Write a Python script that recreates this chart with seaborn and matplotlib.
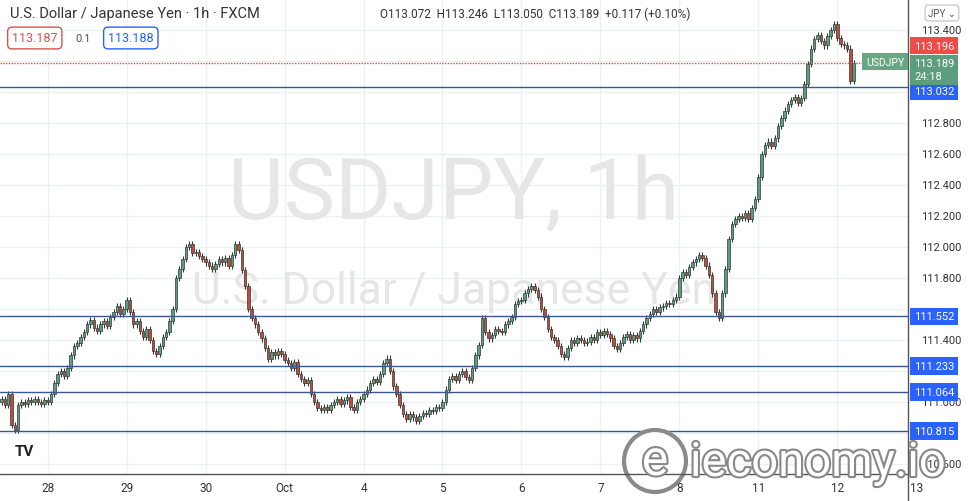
import numpy as np
import pandas as pd
import matplotlib
matplotlib.use("Agg")
import matplotlib.pyplot as plt
import matplotlib.patheffects as pe
import seaborn as sns

# hourly closes, one row per trading day
closes = [
    # Sep 27
    111.02, 110.98, 111.05, 110.85, 110.82, 110.98, 111.00, 110.99, 111.01, 111.00, 111.02, 111.00, 110.99, 111.01,
    # Sep 28
    111.00, 111.05, 111.12, 111.18, 111.20, 111.17, 111.22, 111.30, 111.36, 111.38, 111.42, 111.45,
    111.50, 111.53, 111.48, 111.46, 111.50, 111.52, 111.49, 111.55, 111.58, 111.62, 111.57, 111.60,
    # Sep 29
    111.66, 111.58, 111.50, 111.52, 111.46, 111.42, 111.47, 111.40, 111.33, 111.31, 111.36, 111.42,
    111.45, 111.52, 111.60, 111.80, 111.86, 111.92, 112.00, 112.02, 111.96, 111.97, 111.94, 111.92,
    # Sep 30
    111.90, 111.88, 111.86, 111.89, 111.92, 111.90, 111.93, 111.88, 111.95, 112.02, 111.98, 111.85,
    111.75, 111.60, 111.54, 111.50, 111.45, 111.41, 111.35, 111.28, 111.32, 111.30, 111.33, 111.31,
    # Oct 1
    111.27, 111.25, 111.22, 111.26, 111.18, 111.15, 111.12, 111.14, 111.05, 111.00, 110.96, 110.95,
    110.97, 110.95, 110.98, 111.00, 111.02, 110.99, 111.01, 111.03, 110.97, 110.95, 111.00, 111.02,
    # Oct 4
    111.05, 111.08, 111.12, 111.15, 111.13, 111.18, 111.25, 111.28, 111.20, 111.10, 111.05, 110.98,
    110.92, 110.89, 110.92, 110.90, 110.88, 110.91, 110.93, 110.92, 110.95, 110.94, 110.97, 110.96,
    # Oct 5
    111.00, 111.08, 111.15, 111.17, 111.14, 111.18, 111.20, 111.16, 111.14, 111.22, 111.30, 111.37,
    111.54, 111.45, 111.41, 111.43, 111.47, 111.46, 111.45, 111.50, 111.52, 111.55, 111.63, 111.65,
    # Oct 6
    111.66, 111.70, 111.73, 111.75, 111.72, 111.68, 111.60, 111.55, 111.47, 111.42, 111.40, 111.36,
    111.31, 111.29, 111.35, 111.40, 111.38, 111.41, 111.40, 111.38, 111.39, 111.42, 111.40, 111.45,
    # Oct 7
    111.43, 111.46, 111.44, 111.41, 111.36, 111.34, 111.38, 111.42, 111.44, 111.40, 111.43, 111.41,
    111.46, 111.50, 111.54, 111.57, 111.60, 111.58, 111.61, 111.62, 111.64, 111.63, 111.66, 111.68,
    # Oct 8
    111.80, 111.84, 111.82, 111.87, 111.90, 111.92, 111.95, 111.93, 111.88, 111.82, 111.70, 111.58,
    111.54, 111.70, 111.86, 112.05, 112.15, 112.18, 112.20, 112.19, 112.22, 112.18, 112.25, 112.31,
    # Oct 11
    112.45, 112.60, 112.66, 112.68, 112.65, 112.70, 112.78, 112.83, 112.88, 112.92, 112.95, 112.97,
    112.93, 112.96, 113.05, 113.18, 113.28, 113.34, 113.37, 113.33, 113.30, 113.36, 113.40, 113.44,
    # Oct 12
    113.35, 113.31, 113.30, 113.28, 113.072, 113.189,
]
first_open = 111.00
day_labels = ["28", "29", "30", "Oct", "4", "5", "6", "7", "8", "11", "12", "13"]
day_starts = [14, 38, 62, 86, 110, 134, 158, 182, 206, 230, 254, 278]
levels = [113.032, 111.552, 111.233, 111.064, 110.815]
price_ticks = [113.4, 112.8, 112.6, 112.4, 112.2, 112.0, 111.8, 111.4, 111.0, 110.6]
last_price = 113.189
ask_price = 113.196

df = pd.DataFrame({"close": closes})
df["open"] = df["close"].shift(1).fillna(first_open)
df["high"] = df[["open", "close"]].max(axis=1) + 0.02
df["low"] = df[["open", "close"]].min(axis=1) - 0.02
df["idx"] = np.arange(len(df))

sns.set_theme(style="white")
plt.rcParams["font.family"] = ["Roboto", "DejaVu Sans"]

W, H = 971, 502
fig = plt.figure(figsize=(W / 100, H / 100), dpi=100)
ax = fig.add_axes([0, 27 / H, 908 / W, 475 / H])
ylo = 113.032 - 387 / 155
yhi = 113.032 + 88 / 155
ax.set_ylim(ylo, yhi)
ax.set_xlim(-0.5, 275.5)

for p in np.arange(110.6, 113.61, 0.2):
    ax.axhline(p, color="#eef0f3", lw=1, zorder=0)
for d in day_starts:
    ax.axvline(d, color="#eef0f3", lw=1, zorder=0)

# watermark
ax.text(0.5, 0.59, "USDJPY, 1h", transform=ax.transAxes, fontsize=62, color="#e6e6e6",
        ha="center", va="center", zorder=0)
ax.text(0.5, 0.385, "U.S. Dollar / Japanese Yen", transform=ax.transAxes, fontsize=32,
        color="#e6e6e6", ha="center", va="center", zorder=0)

up_c, dn_c, edge = "#5c9e7c", "#c24a40", "#2f3a36"
for _, r in df.iterrows():
    up = r["close"] >= r["open"]
    ax.vlines(r["idx"], r["low"], r["high"], color=edge, lw=0.8, zorder=2)
    b0, b1 = sorted([r["open"], r["close"]])
    ax.bar(r["idx"], max(b1 - b0, 0.004), bottom=b0, width=0.75,
           color=up_c if up else dn_c, edgecolor=edge, lw=0.5, zorder=3)

for lv in levels:
    ax.axhline(lv, color="#3b5893", lw=1, zorder=4)
ax.axhline(last_price, color="#d9534f", lw=1, ls=(0, (1, 1)), zorder=4)

for s in ax.spines.values():
    s.set_visible(False)
ax.set_xticks([])
ax.set_yticks([])

def fy(p):
    return (27 + (p - ylo) / (yhi - ylo) * 475) / H

# bottom axis
fig.add_artist(plt.Line2D([0, 908 / W], [27 / H, 27 / H], color="#555555", lw=1))
fig.add_artist(plt.Line2D([908 / W, 908 / W], [0, 1], color="#555555", lw=1))
for lab, d in zip(day_labels, day_starts):
    xf = (d + 0.5) / 276 * 908 / W
    fig.text(xf, 13 / H, lab, ha="center", va="center", fontsize=8.5, color="#333333")

# right axis
for p in price_ticks:
    fig.text(921 / W, fy(p), f"{p:.3f}", ha="left", va="center", fontsize=8, color="#333333")

def tag(p, txt, bg, dy=0):
    fig.text(914 / W, fy(p) + dy / H, txt, ha="left", va="center", fontsize=8, color="white",
             bbox=dict(boxstyle="square,pad=0.35", fc=bg, ec="none"))

tag(ask_price, "113.196", "#ee4b49", dy=16)
for lv in levels:
    tag(lv, f"{lv:.3f}", "#2962ff", dy=-4 if lv == 113.032 else 0)
fig.text(914 / W, fy(last_price) - 7 / H, "113.189\n24:18", ha="left", va="center", fontsize=8,
         color="white", linespacing=1.3,
         bbox=dict(boxstyle="square,pad=0.35", fc="#5c9e7c", ec="none"))
fig.text(866 / W, fy(last_price) + 1 / H, "USDJPY", ha="left", va="center", fontsize=7.5,
         color="white", bbox=dict(boxstyle="square,pad=0.35", fc="#6aa584", ec="none"))
fig.text(928 / W, 488 / H, "JPY ⌄", ha="left", va="center", fontsize=7, color="#555555",
         bbox=dict(boxstyle="round,pad=0.3", fc="white", ec="#cccccc"))

# header
fig.text(10 / W, 488 / H, "U.S. Dollar / Japanese Yen · 1h · FXCM", ha="left", va="center",
         fontsize=10.5, color="#333333")
fig.text(380 / W, 488 / H, "O113.072  H113.246  L113.050  C113.189  +0.117 (+0.10%)",
         ha="left", va="center", fontsize=8.5, color="#333333")
fig.text(12 / W, 463 / H, "113.187", ha="left", va="center", fontsize=9, color="#d9534f",
         bbox=dict(boxstyle="round,pad=0.35", fc="white", ec="#d9534f"))
fig.text(75 / W, 463 / H, "0.1", ha="left", va="center", fontsize=8, color="#555555")
fig.text(108 / W, 463 / H, "113.188", ha="left", va="center", fontsize=9, color="#2962ff",
         bbox=dict(boxstyle="round,pad=0.35", fc="white", ec="#2962ff"))

# logos
fig.text(24 / W, 50 / H, "TV", ha="center", va="center", fontsize=11, weight="bold", color="#222222")
fig.add_artist(matplotlib.patches.Ellipse((655 / W, 40 / H), 62 / W, 62 / H, fc="white",
                                          ec="#8a8a8a", lw=3))
fig.text(655 / W, 40 / H, "e", ha="center", va="center", fontsize=36, color="white",
         path_effects=[pe.withStroke(linewidth=3, foreground="#888888")])
fig.text(690 / W, 38 / H, "ieconomy.io", ha="left", va="center", fontsize=34, color="white",
         path_effects=[pe.withStroke(linewidth=3, foreground="#888888")])

fig.savefig("out.png", dpi=100)
